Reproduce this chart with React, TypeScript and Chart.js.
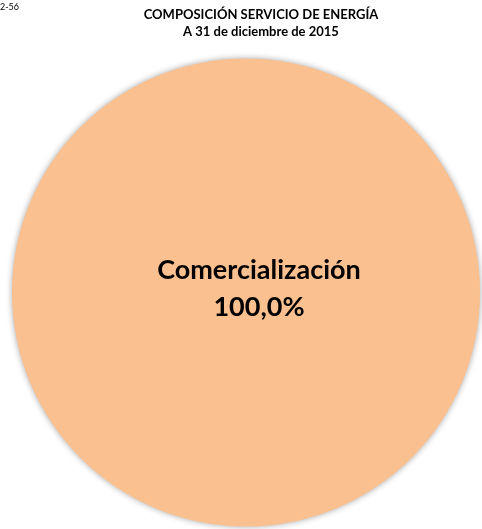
import React, { useEffect, useRef } from "react";
import { Chart, registerables } from "chart.js";

Chart.register(...registerables);

const categories = ["Comercialización"];
const values = [100];
const colors = ["#FAC090"];
const titleLines = ["COMPOSICIÓN SERVICIO DE ENERGÍA", "A 31 de diciembre de 2015"];
const pageCode = "2-56";

const FONT = "Lato, 'Open Sans', sans-serif";

const overlayPlugin = {
  id: "overlay",
  beforeDatasetDraw(chart: any) {
    const ctx = chart.ctx;
    ctx.save();
    ctx.shadowColor = "rgba(0,0,0,0.35)";
    ctx.shadowBlur = 6;
    ctx.shadowOffsetX = 0;
    ctx.shadowOffsetY = 0;
  },
  afterDatasetDraw(chart: any) {
    chart.ctx.restore();
  },
  afterDraw(chart: any) {
    const ctx = chart.ctx;
    ctx.save();
    ctx.fillStyle = "#000";
    ctx.textBaseline = "middle";
    ctx.textAlign = "left";
    ctx.font = `9px ${FONT}`;
    ctx.fillText(pageCode, 0, 7);
    ctx.textAlign = "center";
    ctx.font = `bold 13px ${FONT}`;
    ctx.fillText(titleLines[0], 261, 15);
    ctx.fillText(titleLines[1], 261, 32);

    const total = values.reduce((a, b) => a + b, 0);
    const meta = chart.getDatasetMeta(0);
    meta.data.forEach((arc: any, i: number) => {
      const pct = (values[i] / total) * 100;
      const pctText = pct.toFixed(1).replace(".", ",") + "%";
      let x: number, y: number;
      if (pct >= 99.99) {
        x = arc.x + 13;
        y = arc.y - 3;
      } else {
        const p = arc.tooltipPosition();
        x = p.x;
        y = p.y;
      }
      ctx.font = `bold 27px ${FONT}`;
      ctx.fillText(categories[i], x, y - 19);
      ctx.fillText(pctText, x, y + 18);
    });
    ctx.restore();
  },
};

export default function App() {
  const ref = useRef<HTMLCanvasElement | null>(null);
  useEffect(() => {
    document.body.style.margin = "0";
    const chart = new Chart(ref.current as HTMLCanvasElement, {
      type: "pie",
      data: {
        labels: categories,
        datasets: [
          {
            data: values,
            backgroundColor: colors,
            borderWidth: 0,
          },
        ],
      },
      options: {
        responsive: false,
        animation: false,
        layout: { padding: { top: 57, bottom: 1, left: 12, right: 2 } },
        plugins: {
          legend: { display: false },
          tooltip: { enabled: false },
          title: { display: false },
        },
      },
      plugins: [overlayPlugin],
    });
    return () => chart.destroy();
  }, []);
  return (
    <div style={{ width: 482, height: 529, background: "#fff" }}>
      <canvas ref={ref} width={482} height={529} style={{ display: "block" }} />
    </div>
  );
}
